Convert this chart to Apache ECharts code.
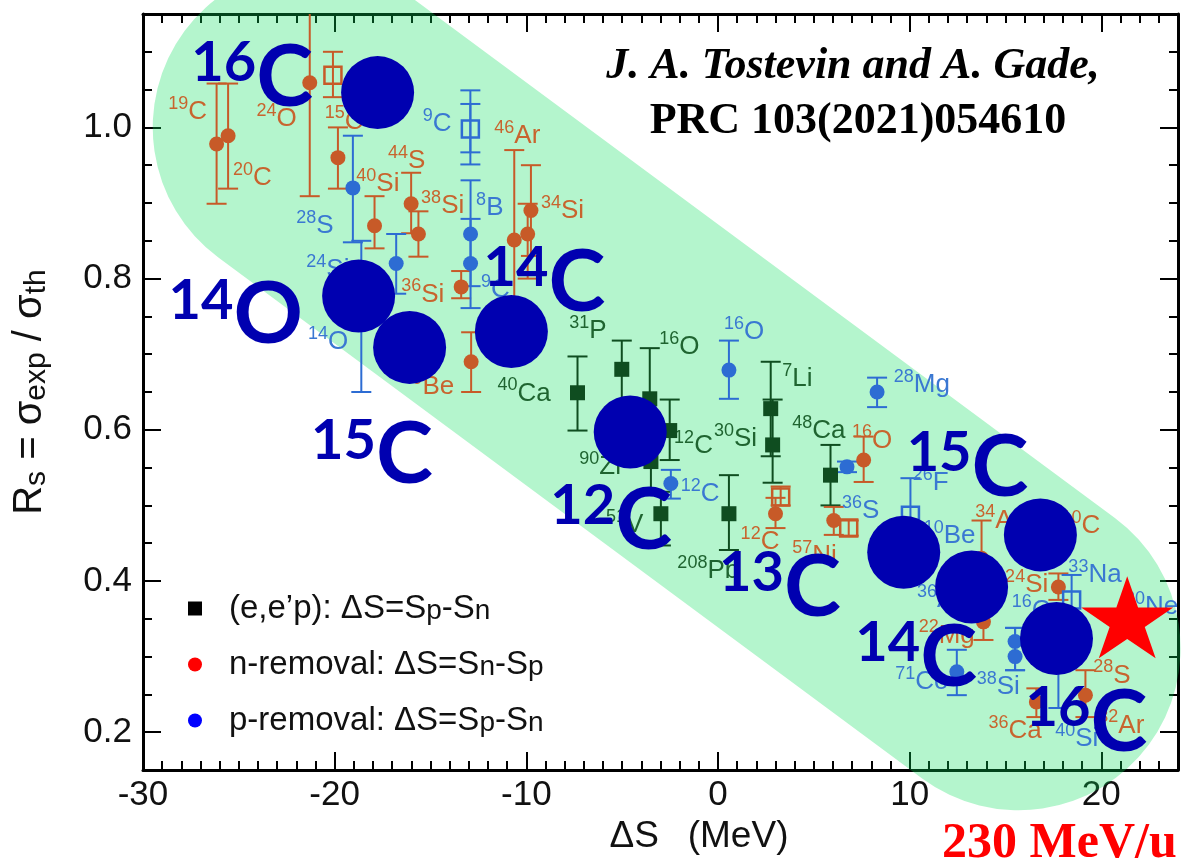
<!DOCTYPE html>
<html>
<head>
<meta charset="utf-8">
<title>Rs vs ΔS</title>
<script src="https://cdn.jsdelivr.net/npm/echarts@6/dist/echarts.min.js"></script>
<style>
  html, body { margin: 0; padding: 0; background: #fff; }
  #chart { width: 1181px; height: 860px; }
</style>
</head>
<body>
<div id="chart"></div>
<script>
// ---- data: [ΔS (MeV), Rs, Rs low, Rs high] ----
const eepPoints = [
  [-7.33, 0.649, 0.599, 0.697],  // 40Ca
  [-5.02, 0.680, 0.620, 0.718],  // 31P
  [-3.56, 0.641, 0.580, 0.708],  // 16O
  [-2.52, 0.599, 0.560, 0.640],  // 12C
  [-3.50, 0.558, 0.520, 0.600],  // 90Zr
  [-2.98, 0.489, 0.447, 0.518],  // 51V
  [0.57, 0.489, 0.441, 0.540],   // 208Pb
  [2.75, 0.628, 0.565, 0.690],   // 7Li
  [2.85, 0.580, 0.530, 0.640],   // 30Si
  [5.87, 0.540, 0.500, 0.580],   // 48Ca
];

const nRemPoints = [
  [-26.16, 0.978, 0.899, 1.058], // 19C
  [-25.56, 0.989, 0.919, 1.058], // 20C
  [-21.30, 1.059, 0.909, 1.250], // 24O
  [-19.83, 0.960, 0.919, 1.000],
  [-17.92, 0.870, 0.840, 0.909], // 40Si
  [-16.01, 0.899, 0.860, 0.940], // 44S
  [-15.63, 0.859, 0.829, 0.889], // 38Si
  [-13.40, 0.789, 0.774, 0.810], // 36Si
  [-12.88, 0.690, 0.650, 0.729], // 9Be
  [-10.63, 0.851, 0.730, 0.970], // 46Ar
  [-9.76, 0.890, 0.830, 0.950],  // 34Si
  [-9.93, 0.859, 0.800, 0.899],
  [3.00, 0.489, 0.470, 0.510],   // 12C
  [6.04, 0.480, 0.461, 0.498],   // 57Ni
  [7.60, 0.560, 0.531, 0.591],   // 16O
  [13.75, 0.430, 0.390, 0.480],  // 34Ar
  [13.85, 0.346, 0.322, 0.370],  // 22Mg
  [16.61, 0.240, 0.220, 0.258],  // 36Ca
  [17.76, 0.392, 0.375, 0.410],  // 24Si
  [19.17, 0.249, 0.220, 0.282],  // 28S
];
const nRemOpen = [
  [-20.09, 1.069, 1.040, 1.100],
  [3.27, 0.511, 0.500, 0.525],
  [6.82, 0.470, 0.460, 0.480],
];

const pRemPoints = [
  [-19.05, 0.920, 0.848, 0.989], // 28S
  [-18.61, 0.760, 0.650, 0.850], // 14O
  [-16.79, 0.820, 0.780, 0.859],
  [-12.91, 0.859, 0.790, 0.930], // 8B
  [-12.91, 0.820, 0.761, 0.879],
  [-2.46, 0.529, 0.509, 0.547],  // 12C
  [0.57, 0.679, 0.641, 0.718],   // 16O
  [6.73, 0.551, 0.544, 0.558],   // 36S
  [8.30, 0.650, 0.630, 0.669],   // 28Mg
  [12.46, 0.280, 0.249, 0.309],  // 71Co
  [15.50, 0.320, 0.282, 0.338],  // 38Si
  [15.50, 0.300, 0.282, 0.338],
  [17.76, 0.300, 0.232, 0.330],  // 40Si
];
const pRemOpen = [
  [-12.92, 0.998, 0.951, 1.049], // 9C
  [10.04, 0.487, 0.440, 0.536],  // 26F
  [18.45, 0.375, 0.340, 0.408],  // 33Na
];
const pRemInner = [
  [-12.92, 0.998, 0.967, 1.031],
];

// big markers (carbon / oxygen isotopes) and the star
const bigPoints = [
  [-17.76, 1.046], [-18.75, 0.777], [-16.09, 0.709], [-10.78, 0.730], [-4.58, 0.597],
  [9.69, 0.438], [13.23, 0.392], [16.82, 0.461], [17.66, 0.324],
];
const starPoint = [[21.35, 0.352]];

// label anchors: [ΔS, Rs, mass number, element]
const eepLabels = [
  [-11.51, 0.648, '40', 'Ca'], [-7.76, 0.731, '31', 'P'], [-3.07, 0.710, '16', 'O'],
  [-2.29, 0.579, '12', 'C'], [-0.21, 0.588, '30', 'Si'], [3.35, 0.667, '7', 'Li'],
  [3.87, 0.599, '48', 'Ca'], [-7.24, 0.551, '90', 'Zr'], [-5.85, 0.474, '51', 'V'],
  [-2.12, 0.413, '208', 'Pb'],
];
const nRemLabels = [
  [-28.68, 1.020, '19', 'C'], [-25.30, 0.933, '20', 'C'], [-24.08, 1.011, '24', 'O'],
  [-20.52, 1.008, '15', 'C'], [-18.87, 0.925, '40', 'Si'], [-17.22, 0.956, '44', 'S'],
  [-15.49, 0.896, '38', 'Si'], [-16.53, 0.779, '36', 'Si'], [-15.94, 0.657, '9', 'Be'],
  [-11.67, 0.989, '46', 'Ar'], [-9.24, 0.889, '34', 'Si'], [1.18, 0.452, '12', 'C'],
  [6.99, 0.586, '16', 'O'], [3.87, 0.433, '57', 'Ni'], [13.42, 0.480, '34', 'Ar'],
  [17.92, 0.473, '10', 'C'], [14.98, 0.395, '24', 'Si'], [10.47, 0.328, '22', 'Mg'],
  [19.58, 0.275, '28', 'S'], [14.11, 0.202, '36', 'Ca'], [19.84, 0.209, '32', 'Ar'],
];
const pRemLabels = [
  [-15.40, 1.005, '9', 'C'], [-22.00, 0.870, '28', 'S'], [-12.62, 0.894, '8', 'B'],
  [-21.48, 0.811, '24', 'Si'], [-21.39, 0.716, '14', 'O'], [-12.36, 0.785, '9', 'C'],
  [0.31, 0.729, '16', 'O'], [-1.94, 0.515, '12', 'C'], [9.17, 0.659, '28', 'Mg'],
  [6.47, 0.493, '36', 'S'], [10.16, 0.530, '26', 'F'], [10.73, 0.460, '10', 'Be'],
  [10.38, 0.375, '36', 'Ar'], [15.33, 0.361, '16', 'C'], [18.28, 0.408, '33', 'Na'],
  [21.23, 0.366, '20', 'Ne'], [9.25, 0.266, '71', 'Co'], [13.50, 0.260, '38', 'Si'],
  [17.59, 0.191, '40', 'Si'],
];
const bigLabels = [
  [-24.30, 1.065, '16', 'C'], [-25.16, 0.751, '14', 'O'], [-18.05, 0.566, '15', 'C'],
  [-9.06, 0.794, '14', 'C'], [-5.57, 0.479, '12', 'C'], [3.23, 0.391, '13', 'C'],
  [13.02, 0.549, '15', 'C'], [10.34, 0.298, '14', 'C'], [19.22, 0.212, '16', 'C'],
];

// shaded band (centre line end points)
const bandPath = [[-21.04, 1.0], [15.68, 0.311]];

const xMajor = [-30, -20, -10, 0, 10, 20];
const yMajor = [0.2, 0.4, 0.6, 0.8, 1.0];

const legendText = {
  eep: '{g| }{a|(e,e’p): ΔS=S}{b|p}{a|-S}{b|n}',
  nrem: '{g| }{a|n-removal: ΔS=S}{b|n}{a|-S}{b|p}',
  prem: '{g| }{a|p-removal: ΔS=S}{b|p}{a|-S}{b|n}',
};

// ---- styles ----
const FONT = 'Liberation Sans, Arial, sans-serif';
const GREEN = '#0f4d20', GREEN_TXT = '#1f6430';
const ORANGE = '#c75a28', ORANGE_TXT = '#c8642e';
const BLUE = '#2d6cd3', BLUE_TXT = '#3a78d2';
const BIG = '#0000b0';

function errSeries(data, color, half) {
  return {
    type: 'custom', data, z: 3, clip: true, silent: true,
    encode: { x: 0, y: [2, 3] },
    renderItem: (params, api) => {
      const x = api.value(0);
      const a = api.coord([x, api.value(3)]);
      const b = api.coord([x, api.value(2)]);
      const st = { stroke: color, lineWidth: 2 };
      return {
        type: 'group', children: [
          { type: 'line', shape: { x1: a[0], y1: a[1], x2: b[0], y2: b[1] }, style: st },
          { type: 'line', shape: { x1: a[0] - half, y1: a[1], x2: a[0] + half, y2: a[1] }, style: st },
          { type: 'line', shape: { x1: b[0] - half, y1: b[1], x2: b[0] + half, y2: b[1] }, style: st },
        ]
      };
    }
  };
}

function labelSeries(data, color) {
  return {
    type: 'scatter', symbolSize: 0, silent: true, z: 4,
    itemStyle: { opacity: 1 },
    data: data.map(d => ({ value: [d[0], d[1]], m: d[2], e: d[3] })),
    label: {
      show: true, position: 'right', distance: 0,
      formatter: p => `{m|${p.data.m}}{e|${p.data.e}}`,
      rich: {
        m: { fontSize: 18, lineHeight: 2, verticalAlign: 'top', color, fontFamily: FONT },
        e: { fontSize: 26, lineHeight: 34, verticalAlign: 'middle', color, fontFamily: FONT },
      }
    }
  };
}

const axisLineStyle = { color: '#000', width: 3 };
const tickStyle = { color: '#000', width: 2 };
const xBase = { type: 'value', min: -30, max: 24, splitLine: { show: false } };
const yBase = { type: 'value', min: 0.15, max: 1.15, splitLine: { show: false } };
const hiddenLine = { show: false, onZero: false };

const chart = echarts.init(document.getElementById('chart'), null, { width: 1181, height: 860 });

const option = {
  animation: false,
  backgroundColor: '#fff',
  grid: { left: 143, right: 3, top: 14, bottom: 90, containLabel: false, outerBoundsMode: 'none' },
  xAxis: [
    {
      ...xBase, position: 'bottom',
      axisLine: { onZero: false, lineStyle: axisLineStyle },
      axisTick: { inside: true, length: 18, lineStyle: tickStyle, customValues: xMajor },
      axisLabel: { customValues: xMajor, fontSize: 35, fontFamily: FONT, color: '#111', margin: 8 },
      name: 'ΔS\u2002 (MeV)', nameLocation: 'middle', nameGap: 46,
      nameTextStyle: { fontSize: 37, fontFamily: FONT, color: '#111', padding: [0, 0, 0, 77] },
    },
    {
      ...xBase, position: 'bottom', interval: 1,
      axisLine: hiddenLine,
      axisTick: { inside: true, length: 9, lineStyle: tickStyle },
      axisLabel: { show: false },
    },
    {
      ...xBase, position: 'top',
      axisLine: { onZero: false, lineStyle: axisLineStyle },
      axisTick: { inside: true, length: 18, lineStyle: tickStyle, customValues: xMajor },
      axisLabel: { show: false },
    },
    {
      ...xBase, position: 'top', interval: 1,
      axisLine: hiddenLine,
      axisTick: { inside: true, length: 9, lineStyle: tickStyle },
      axisLabel: { show: false },
    },
  ],
  yAxis: [
    {
      ...yBase, position: 'left',
      axisLine: { onZero: false, lineStyle: axisLineStyle },
      axisTick: { inside: true, length: 18, lineStyle: tickStyle, customValues: yMajor },
      axisLabel: { customValues: yMajor, fontSize: 35, fontFamily: FONT, color: '#111', margin: 11,
        formatter: v => v.toFixed(1) },
      name: '{a|R}{b|s}{a| = σ}{b|exp}{a| / σ}{b|th}', nameLocation: 'middle', nameGap: 91,
      nameTextStyle: {
        rich: {
          a: { fontSize: 40, lineHeight: 44, verticalAlign: 'middle', fontFamily: FONT, color: '#111' },
          b: { fontSize: 30, lineHeight: 1, verticalAlign: 'bottom', fontFamily: FONT, color: '#111' },
        }
      },
    },
    {
      ...yBase, position: 'left', interval: 0.05,
      axisLine: hiddenLine,
      axisTick: { inside: true, length: 9, lineStyle: tickStyle },
      axisLabel: { show: false },
    },
    {
      ...yBase, position: 'right',
      axisLine: { onZero: false, lineStyle: axisLineStyle },
      axisTick: { inside: true, length: 18, lineStyle: tickStyle, customValues: yMajor },
      axisLabel: { show: false },
    },
    {
      ...yBase, position: 'right', interval: 0.05,
      axisLine: hiddenLine,
      axisTick: { inside: true, length: 9, lineStyle: tickStyle },
      axisLabel: { show: false },
    },
  ],
  legend: {
    orient: 'vertical', left: 183, top: 587, itemWidth: 14, itemHeight: 14, itemGap: 23,
    selectedMode: false,
    data: [
      { name: 'eep', icon: 'rect', itemStyle: { color: '#000', opacity: 1 } },
      { name: 'nrem', icon: 'circle', itemStyle: { color: '#f00', opacity: 1 } },
      { name: 'prem', icon: 'circle', itemStyle: { color: '#00f', opacity: 1 } },
    ],
    formatter: n => legendText[n],
    textStyle: {
      rich: {
        g: { width: 22 },
        a: { fontSize: 33, lineHeight: 33, verticalAlign: 'middle', fontFamily: FONT, color: '#111' },
        b: { fontSize: 28, lineHeight: 4, verticalAlign: 'bottom', fontFamily: FONT, color: '#111' },
      }
    }
  },
  graphic: [
    { type: 'text', x: 853, y: 67, z: 20, silent: true,
      style: { text: 'J. A. Tostevin and A. Gade,', font: 'italic bold 44px "Liberation Serif", serif',
        fill: '#000', textAlign: 'center', textVerticalAlign: 'middle' } },
    { type: 'text', x: 858, y: 122, z: 20, silent: true,
      style: { text: 'PRC 103(2021)054610', font: 'bold 44px "Liberation Serif", serif',
        fill: '#000', textAlign: 'center', textVerticalAlign: 'middle' } },
    { type: 'text', x: 942, y: 844, z: 20, silent: true,
      style: { text: '230 MeV/u', font: 'bold 50px "Liberation Serif", serif',
        fill: '#f00', textAlign: 'left', textVerticalAlign: 'middle' } },
  ],
  series: [
    {
      type: 'line', data: bandPath, symbol: 'none', clip: false, silent: true, z: 1,
      lineStyle: { width: 324, color: 'rgba(5,222,88,0.3)', cap: 'round' },
    },
    errSeries(eepPoints, GREEN, 10),
    errSeries(nRemPoints, ORANGE, 10),
    errSeries(nRemOpen, ORANGE, 10),
    errSeries(pRemPoints, BLUE, 10),
    errSeries(pRemOpen, BLUE, 10),
    errSeries(pRemInner, BLUE, 10),
    { name: 'eep', type: 'scatter', data: eepPoints.map(d => [d[0], d[1]]), symbol: 'rect',
      symbolSize: 15, itemStyle: { color: GREEN, opacity: 1 }, z: 5, silent: true },
    { name: 'nrem', type: 'scatter', data: nRemPoints.map(d => [d[0], d[1]]), symbol: 'circle',
      symbolSize: 15, itemStyle: { color: ORANGE, opacity: 1 }, z: 5, silent: true },
    { type: 'scatter', data: nRemOpen.map(d => [d[0], d[1]]), symbol: 'rect', symbolSize: 17,
      itemStyle: { color: 'rgba(0,0,0,0)', borderColor: ORANGE, borderWidth: 2.5, opacity: 1 }, z: 5, silent: true },
    { name: 'prem', type: 'scatter', data: pRemPoints.map(d => [d[0], d[1]]), symbol: 'circle',
      symbolSize: 15, itemStyle: { color: BLUE, opacity: 1 }, z: 5, silent: true },
    { type: 'scatter', data: pRemOpen.map(d => [d[0], d[1]]), symbol: 'rect', symbolSize: 17,
      itemStyle: { color: 'rgba(0,0,0,0)', borderColor: BLUE, borderWidth: 2.5, opacity: 1 }, z: 5, silent: true },
    labelSeries(eepLabels, GREEN_TXT),
    labelSeries(nRemLabels, ORANGE_TXT),
    labelSeries(pRemLabels, BLUE_TXT),
    { type: 'scatter', data: bigPoints, symbol: 'circle', symbolSize: 73,
      itemStyle: { color: BIG, opacity: 1 }, z: 10, silent: true },
    {
      type: 'scatter', symbolSize: 0, silent: true, z: 11,
      itemStyle: { opacity: 1 },
      data: bigLabels.map(d => ({ value: [d[0], d[1]], m: d[2], e: d[3] })),
      label: {
        show: true, position: 'inside',
        formatter: p => `{m|${p.data.m}}{e|${p.data.e}}`,
        rich: {
          m: { fontSize: 56, lineHeight: 48, verticalAlign: 'top', color: BIG, fontWeight: 'bold', fontFamily: 'Lato, sans-serif' },
          e: { fontSize: 86, lineHeight: 86, verticalAlign: 'middle', color: BIG, fontWeight: 'bold', fontFamily: 'Lato, sans-serif' },
        }
      }
    },
    { type: 'scatter', data: starPoint, z: 12, silent: true,
      symbol: 'path://M0,-10L2.245,-3.09L9.511,-3.09L3.633,1.18L5.878,8.09L0,3.82L-5.878,8.09L-3.633,1.18L-9.511,-3.09L-2.245,-3.09Z',
      symbolSize: [92, 82], itemStyle: { color: '#f00', opacity: 1 } },
  ],
};

chart.setOption(option);
</script>
</body>
</html>
